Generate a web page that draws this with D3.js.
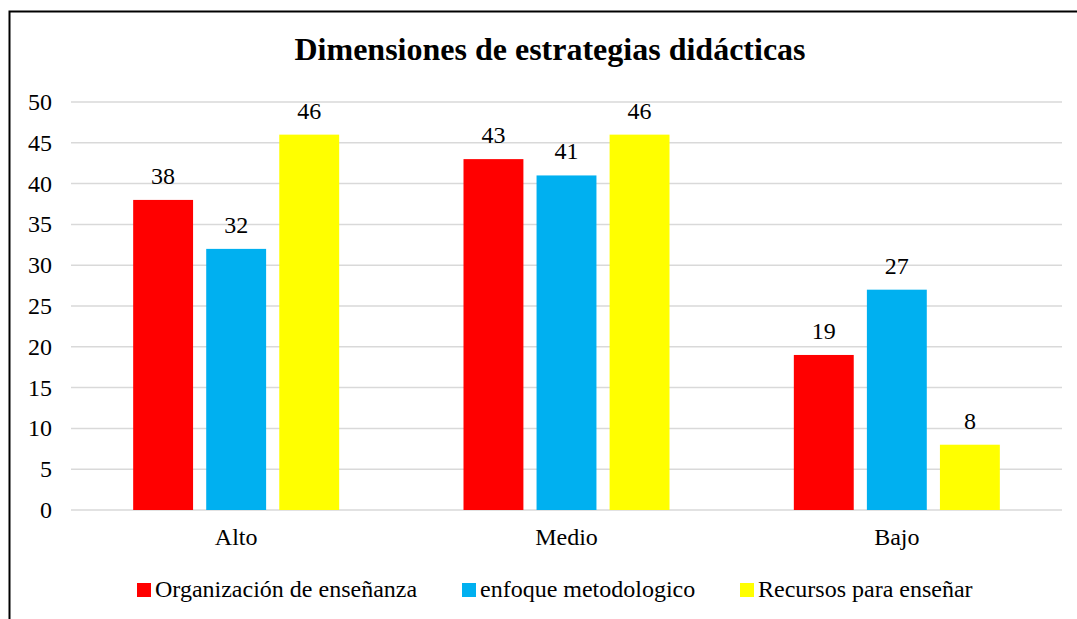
<!DOCTYPE html>
<html>
<head>
<meta charset="utf-8">
<script src="https://cdn.jsdelivr.net/npm/d3@7"></script>
<style>
  body { margin: 0; background: #fff; }
</style>
</head>
<body>
<svg id="chart"></svg>
<script>
const categories = ['Alto', 'Medio', 'Bajo']
const seriesNames = ['Organización de enseñanza', 'enfoque metodologico', 'Recursos para enseñar']
const organizacion = [38, 43, 19]
const enfoque = [32, 41, 27]
const recursos = [46, 46, 8]
const yTicks = [0, 5, 10, 15, 20, 25, 30, 35, 40, 45, 50]
const colors = ['#FF0000', '#00B0F0', '#FFFF00']

const FONT = "'Liberation Serif'"
const width = 1077, height = 619
const margin = {left: 71, right: 15, top: 102, bottom: 109}

let svg = d3.select('#chart').attr('width', width).attr('height', height)

// outer border (runs past right and bottom edge like the source)
svg.append('rect')
    .attr('x', 9.5).attr('y', 11.5)
    .attr('width', 1100).attr('height', 700)
    .attr('fill', 'none').attr('stroke', '#000').attr('stroke-width', 2)

svg.append('text')
    .attr('x', 550).attr('y', 60)
    .attr('text-anchor', 'middle')
    .style('font-family', FONT)
    .style('font-size', '32px').style('font-weight', 'bold')
    .text('Dimensiones de estrategias didácticas')

let x0 = d3.scaleBand()
    .domain(categories)
    .range([margin.left, width - margin.right])

let x1 = d3.scaleBand()
    .domain(d3.range(3))
    .range([0, 206])
    .paddingInner(0.18)

let y = d3.scaleLinear()
    .domain([0, 50])
    .range([height - margin.bottom, margin.top])

// gridlines
svg.append('g').selectAll('line')
    .data(yTicks).join('line')
    .attr('x1', margin.left).attr('x2', width - margin.right)
    .attr('y1', d => y(d)).attr('y2', d => y(d))
    .attr('stroke', '#D9D9D9').attr('stroke-width', 1.5)

// y labels
svg.append('g').selectAll('text')
    .data(yTicks).join('text')
    .attr('x', 52).attr('y', d => y(d) + 8)
    .attr('text-anchor', 'end')
    .style('font-family', FONT)
    .style('font-size', '24px')
    .text(d => d)

const series = [organizacion, enfoque, recursos]

categories.forEach((cat, ci) => {
    let gx = x0(cat) + x0.bandwidth() / 2 - 103
    let g = svg.append('g').attr('transform', 'translate(' + gx + ',0)')
    let vals = series.map(s => s[ci])
    g.selectAll('rect')
        .data(vals).join('rect')
        .attr('x', (d, i) => x1(i))
        .attr('width', x1.bandwidth())
        .attr('y', d => y(d))
        .attr('height', d => y(0) - y(d))
        .attr('fill', (d, i) => colors[i])
    g.selectAll('text')
        .data(vals).join('text')
        .attr('x', (d, i) => x1(i) + x1.bandwidth() / 2)
        .attr('y', d => y(d) - 16)
        .attr('text-anchor', 'middle')
        .style('font-family', FONT)
        .style('font-size', '24px')
        .text(d => d)
})

// category labels
svg.append('g').selectAll('text')
    .data(categories).join('text')
    .attr('x', d => x0(d) + x0.bandwidth() / 2)
    .attr('y', 545)
    .attr('text-anchor', 'middle')
    .style('font-family', FONT)
    .style('font-size', '24px')
    .text(d => d)

// legend
const legendX = [137, 462, 740]
let lg = svg.append('g').selectAll('g')
    .data(seriesNames).join('g')
    .attr('transform', (d, i) => 'translate(' + legendX[i] + ',583)')
lg.append('rect')
    .attr('width', 14).attr('height', 14)
    .attr('fill', (d, i) => colors[i])
lg.append('text')
    .attr('x', 18).attr('y', 14)
    .style('font-family', FONT)
    .style('font-size', '24px')
    .text(d => d)
</script>
</body>
</html>
